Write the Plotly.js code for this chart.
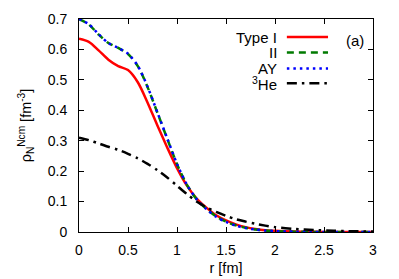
<!DOCTYPE html>
<html>
<head>
<meta charset="utf-8">
<script src="https://cdn.plot.ly/plotly-3.0.1.min.js"></script>
<style>html,body{margin:0;padding:0;background:#fff;}#chart{width:399px;height:279px;}</style>
</head>
<body>
<div id="chart"></div>
<script>
const r = [0,0.1,0.2,0.3,0.4,0.5,0.6,0.7,0.8,0.9,1.0,1.1,1.2,1.3,1.4,1.5,1.6,1.7,1.8,1.9,2.0,2.2,2.4,2.6,2.8,3.0];
const typeI = [0.635,0.625,0.597,0.566,0.545,0.532,0.492,0.425,0.350,0.278,0.210,0.153,0.110,0.080,0.055,0.038,0.025,0.016,0.010,0.006,0.004,0.0015,0.0006,0.0002,0.0001,0];
const typeII = [0.700,0.682,0.649,0.621,0.605,0.585,0.545,0.476,0.392,0.307,0.223,0.156,0.108,0.076,0.051,0.034,0.022,0.014,0.008,0.005,0.003,0.001,0.0004,0.0001,0,0];
const typeAY = [0.700,0.683,0.650,0.621,0.605,0.586,0.546,0.477,0.393,0.308,0.224,0.156,0.108,0.075,0.050,0.033,0.021,0.013,0.008,0.005,0.003,0.001,0.0004,0.0001,0,0];
const he3 = [0.310,0.302,0.291,0.280,0.270,0.257,0.242,0.224,0.203,0.179,0.152,0.125,0.100,0.081,0.066,0.053,0.042,0.034,0.027,0.021,0.016,0.010,0.0065,0.004,0.0025,0.0015];
const names = ["Type I","II","AY","<sup>3</sup>He"];
const colors = ["#ff0000","#007a00","#0000ff","#000000"];
const dashes = ["solid","7px,5px","2.5px,4px","10px,5px,2.5px,5px"];
const series = [typeI, typeII, typeAY, he3];

const traces = series.map((ys,i)=>({
  x: r, y: ys, type:'scatter', mode:'lines', name:names[i],
  line:{color:colors[i], width:2.5, dash:dashes[i], shape:'spline', smoothing:0.8},
  showlegend:false, hoverinfo:'skip'
}));

// manual gnuplot-style legend
const legY = [0.915,0.843,0.768,0.698];
const shapes = [], annotations = [];
names.forEach((n,i)=>{
  shapes.push({type:'line', xref:'paper', yref:'paper', x0:0.707, x1:0.847, y0:legY[i], y1:legY[i],
    line:{color:colors[i], width:2.5, dash:dashes[i]}});
  annotations.push({xref:'paper', yref:'paper', x:0.68, y:legY[i], xanchor:'right', yanchor:'middle',
    text:n, showarrow:false, font:{family:'Liberation Sans, Arial, sans-serif', size:15, color:'#000'}});
});
annotations.push({xref:'paper', yref:'paper', x:0.94, y:0.90, xanchor:'center', yanchor:'middle',
  text:'(a)', showarrow:false, font:{family:'Liberation Sans, Arial, sans-serif', size:15, color:'#000'}});

const layout = {
  width:399, height:279,
  margin:{l:79, r:26, t:19, b:47, pad:0},
  paper_bgcolor:'#fff', plot_bgcolor:'#fff',
  font:{family:'Liberation Sans, Arial, sans-serif', size:14, color:'#000'},
  showlegend:false,
  xaxis:{range:[0,3], tickvals:[0,0.5,1,1.5,2,2.5,3], ticktext:['0','0.5','1','1.5','2','2.5','3'],
    ticks:'inside', ticklen:5, tickcolor:'#000', showline:true, linecolor:'#000', linewidth:1, mirror:'ticks',
    showgrid:false, zeroline:false, ticklabelstandoff:5,
    title:{text:'r [fm]', standoff:6, font:{size:14.5}}},
  yaxis:{range:[0,0.7], tickvals:[0,0.1,0.2,0.3,0.4,0.5,0.6,0.7], ticktext:['0','0.1','0.2','0.3','0.4','0.5','0.6','0.7'],
    ticks:'inside', ticklen:5, tickcolor:'#000', showline:true, linecolor:'#000', linewidth:1, mirror:'ticks',
    showgrid:false, zeroline:false, ticklabelstandoff:8,
    title:{text:'ρ<sub>N</sub><sup>Ncm</sup> [fm<sup>-3</sup>]', standoff:12, font:{size:14.5}}},
  shapes:shapes, annotations:annotations
};
Plotly.newPlot('chart', traces, layout, {displayModeBar:false, staticPlot:true});
</script>
</body>
</html>
